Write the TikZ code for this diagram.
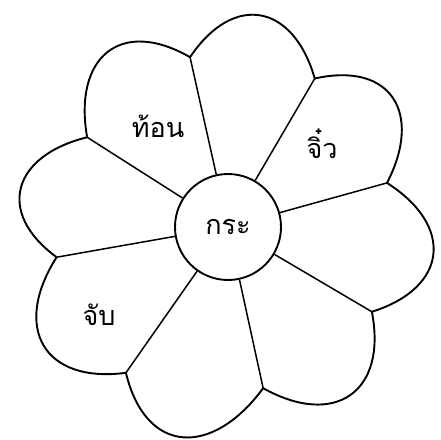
\documentclass[tikz,border=0pt]{standalone}
\usepackage{fontspec}
\newfontfamily\thaifont[Script=Thai]{Loma}
\usetikzlibrary{positioning}
\tikzset{
  petal/.style={line width=1.9pt, line cap=round, line join=round},
  vein/.style={line width=1.5pt}
}
\tikzset{
  thaitext/.style={font=\thaifont\fontsize{27}{32}\selectfont}
}

\begin{document}
\begin{tikzpicture}[x=1pt,y=1pt]
  \useasboundingbox (-228,-212) rectangle (213,227);
  \node[draw, circle, petal, minimum size=106pt, inner sep=0pt, thaitext] (kra) at (0,0) {กระ};
  \foreach \n/\a/\r in {1/102.6/174, 2/59.7/172, 3/15.5/165, 4/-30.5/167,
                        5/-77.7/165, 6/-125/178, 7/-170/174, 8/147.5/167}
    \coordinate (tip\n) at (\a:\r);
  \foreach \n in {1,...,8}
    \draw[vein] (kra) -- (tip\n);
  % petals, clockwise from tip to tip
  \foreach \p/\q/\a/\b [evaluate=\a as \ao using (\a+\b)/2-25,
                        evaluate=\a as \bi using (\a+\b)/2+25]
      in {1/2/102.6/59.7, 2/3/59.7/15.5, 3/4/15.5/-30.5,
          4/5/-30.5/-77.7, 5/6/-77.7/-125, 6/7/-125/-170,
          7/8/190/147.5, 8/1/147.5/102.6}
    \draw[petal] (tip\p) to[out=\ao, in=\bi, looseness=1.58] (tip\q);
  \node[thaitext, anchor=base] (thon) at (-70,89) {ท้อน};
  \node[thaitext, anchor=base] (chiw) at (94,69) {จิ๋ว};
  \node[thaitext, anchor=base] (chap) at (-129,-98) {จับ};
\end{tikzpicture}
\end{document}
